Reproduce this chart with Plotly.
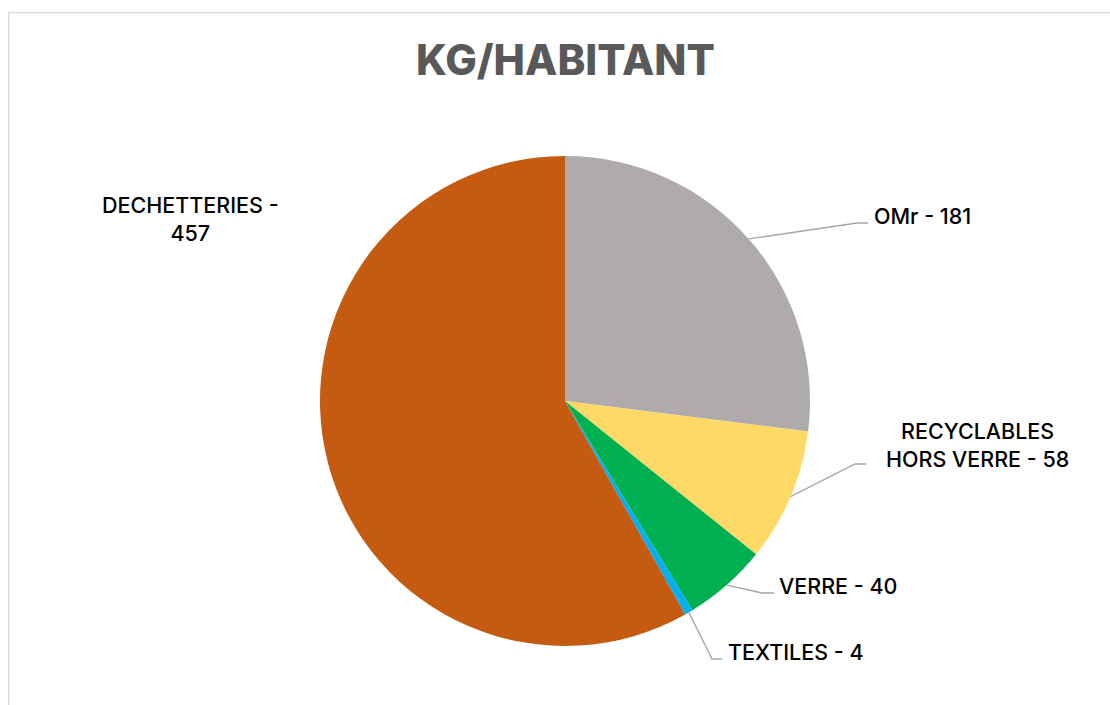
import math
import plotly.graph_objects as go

W, H = 1110, 705

# labels as printed on the chart
categories = ["OMr", "RECYCLABLES<br>HORS VERRE", "VERRE", "TEXTILES", "DECHETTERIES"]
label_values = [181, 58, 40, 4, 457]
# slice sizes as drawn (they differ from the labels)
slice_values = [200, 65, 41, 4, 431]
colors = ["#AEABAA", "#FFD966", "#00B050", "#00B0F0", "#C55A11"]

texts = [f"{c} - {v}" for c, v in zip(categories, label_values)]
texts[4] = f"DECHETTERIES -<br>{label_values[4]}"


def px(x):
    return x / W


def py(y):
    return 1 - y / H


# pie geometry in pixels
cx, cy, r = 565, 401, 245

fig = go.Figure()
fig.add_trace(go.Pie(
    labels=categories,
    values=slice_values,
    sort=False,
    direction="clockwise",
    rotation=0,
    textinfo="none",
    marker=dict(colors=colors, line=dict(width=0)),
    domain=dict(x=[px(cx - r), px(cx + r)], y=[py(cy + r), py(cy - r)]),
    showlegend=False,
))

# label placement: (elbow x, elbow y, line end x, text x, text y, anchor)
label_pos = [
    (857, 223, 868, 872, 216, "left"),
    (855, 464, 866, 977, 445, "center"),
    (762, 593, 774, 777, 586, "left"),
    (712, 659, 722, 726, 652, "left"),
    (None, None, None, 190, 219, "center"),
]

total = sum(slice_values)
cum = 0
shapes = []
annotations = []
for v, t, pos in zip(slice_values, texts, label_pos):
    mid = (cum + v / 2) / total * 2 * math.pi
    cum += v
    ex, ey, lx, tx, ty, anchor = pos
    if ex is not None:
        sx = cx + r * math.sin(mid)
        sy = cy - r * math.cos(mid)
        path = f"M {px(sx)},{py(sy)} L {px(ex)},{py(ey)} L {px(lx)},{py(ey)}"
        shapes.append(dict(type="path", xref="paper", yref="paper", path=path,
                           line=dict(color="#A6A6A6", width=1.3)))
    annotations.append(dict(
        text=t, x=px(tx), y=py(ty), xref="paper", yref="paper",
        xanchor=anchor, yanchor="middle", align="center", showarrow=False,
        font=dict(family="Inter", size=21.5, color="#000000", weight=500),
    ))

# title
annotations.append(dict(
    text="KG/HABITANT", x=px(565), y=py(59), xref="paper", yref="paper",
    xanchor="center", yanchor="middle", showarrow=False,
    font=dict(family="Inter", size=42, color="#595959", weight=800),
))

# chart area border
shapes.append(dict(type="rect", xref="paper", yref="paper",
                   x0=px(8.7), y0=py(12.7), x1=px(W + 20), y1=py(H + 20),
                   line=dict(color="#D9D9D9", width=1.3)))

fig.update_layout(
    width=W, height=H,
    margin=dict(l=0, r=0, t=0, b=0),
    paper_bgcolor="white",
    plot_bgcolor="white",
    shapes=shapes,
    annotations=annotations,
)

fig.write_html("out.html", config={"displayModeBar": False},
               post_script="document.body.style.margin='0';")
